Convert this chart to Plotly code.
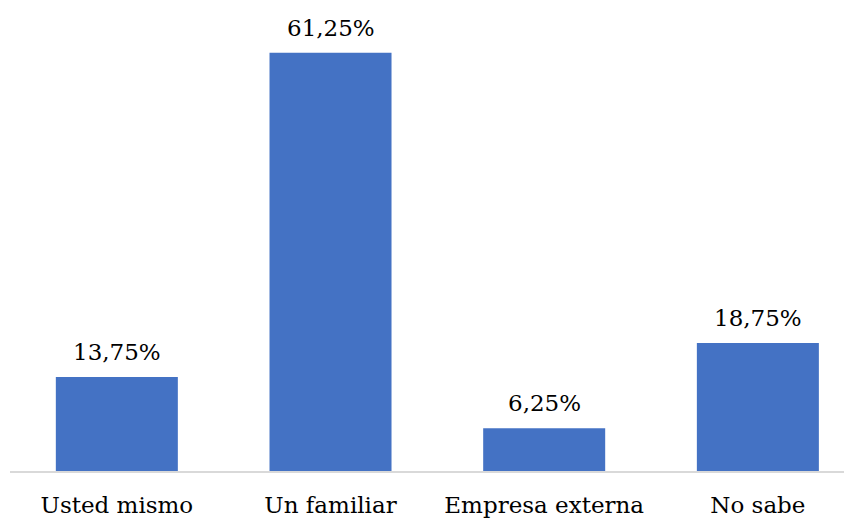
import plotly.graph_objects as go

categorias = ["Usted mismo", "Un familiar", "Empresa externa", "No sabe"]
porcentajes = [13.75, 61.25, 6.25, 18.75]
etiquetas = ["13,75%", "61,25%", "6,25%", "18,75%"]

fuente = "DejaVu Serif"

fig = go.Figure(go.Bar(
    x=categorias,
    y=porcentajes,
    width=0.571,
    marker=dict(color="#4472c4", line=dict(width=0)),
))

# etiquetas de datos encima de cada barra
for cat, val, txt in zip(categorias, porcentajes, etiquetas):
    fig.add_annotation(x=cat, y=val, text=txt, showarrow=False,
                       yanchor="bottom", yshift=10,
                       font=dict(family=fuente, size=23, color="black"))

fig.update_layout(
    width=852, height=521,
    margin=dict(l=2, r=0, t=0, b=58, autoexpand=False),
    paper_bgcolor="white", plot_bgcolor="white",
    font=dict(family=fuente, size=23, color="black"),
    showlegend=False,
    xaxis=dict(range=[-0.5, 3.478], showline=True, linecolor="#d9d9d9", linewidth=2,
               ticks="", automargin=False, ticklabelstandoff=12,
               tickfont=dict(family=fuente, size=23)),
    yaxis=dict(range=[0, 67.8], visible=False, showgrid=False, automargin=False),
)

fig.write_html("out.html")
